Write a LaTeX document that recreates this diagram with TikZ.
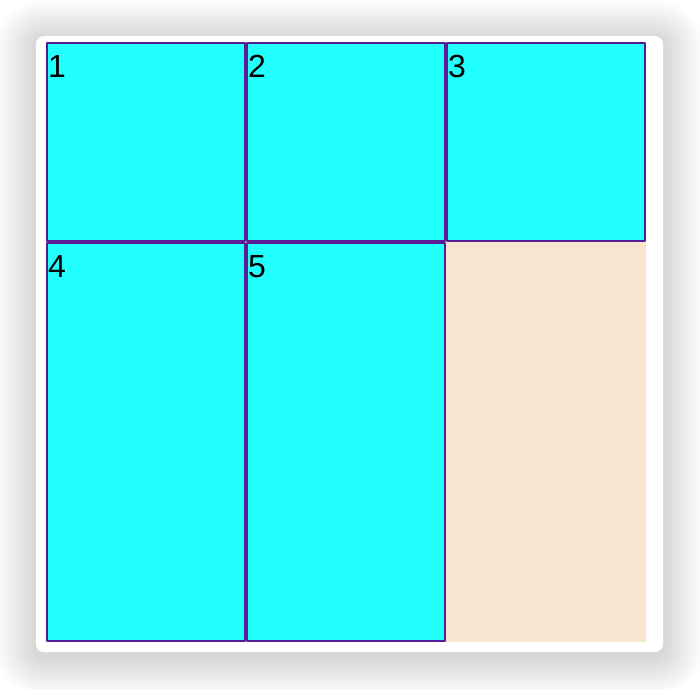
\documentclass[tikz,border=0pt]{standalone}
\usepackage{fontspec}
\setmainfont{Liberation Sans}
\usetikzlibrary{positioning}
\definecolor{gridcyan}{RGB}{34,255,255}
\definecolor{gridline}{RGB}{90,28,150}
\definecolor{gridtan}{RGB}{247,229,208}

\begin{document}
\begin{tikzpicture}[x=1pt,y=-1pt,line join=round,
    cell/.style={draw=gridline,line width=2pt,fill=gridcyan,inner sep=0pt,outer sep=0pt,minimum width=198pt},
    num/.style={anchor=base west,inner sep=0pt,font=\fontsize{32}{38}\selectfont}]
  \useasboundingbox (0,0) rectangle (700,688);
  \fill[white] (0,0) rectangle (700,688);
  \foreach \i [evaluate=\i as \r using 8+2*\i] in {1,...,20}
    \fill[black,opacity=0.008,rounded corners=\r pt] (36-2*\i,40-2*\i) rectangle (663+2*\i,656+2*\i);
  \fill[white,rounded corners=8pt] (36,36) rectangle (663,652);
  \fill[gridtan] (46,42) rectangle (646,642);
  \node[cell,minimum height=198pt] (c1) at (146,142) {};
  \node[cell,minimum height=198pt] (c2) at (346,142) {};
  \node[cell,minimum height=198pt] (c3) at (546,142) {};
  \node[cell,minimum height=398pt] (c4) at (146,442) {};
  \node[cell,minimum height=398pt] (c5) at (346,442) {};
  \foreach \n in {1,...,5}
    \node[num] (l\n) at ([xshift=1pt,yshift=-34.5pt]c\n.north west) {\n};
\end{tikzpicture}
\end{document}
